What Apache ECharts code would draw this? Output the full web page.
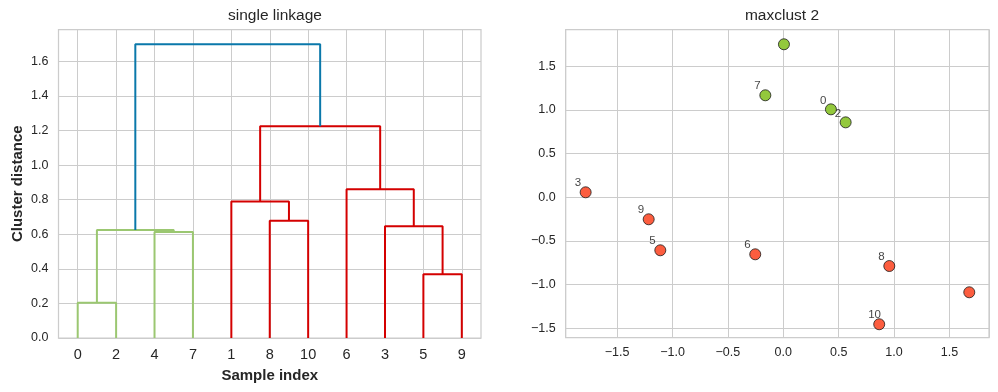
<!DOCTYPE html>
<html><head><meta charset="utf-8">
<script src="https://cdn.jsdelivr.net/npm/echarts@6/dist/echarts.min.js"></script>
<style>html,body{margin:0;padding:0;background:#fff}#c{width:998px;height:392px}</style>
</head><body><div id="c"></div>
<script>
// ---- dendrogram data ----
const leafLabels = ['0','2','4','7','1','8','10','6','3','5','9'];
// merge k creates node 11+k; leaves are sample ids 0..10
const mergeLeft   = [0, 5, 4, 11, 3, 8, 1, 6, 17, 14];
const mergeRight  = [2, 9, 7, 13, 12, 10, 16, 15, 18, 19];
const mergeHeight = [0.204, 0.369, 0.613, 0.625, 0.646, 0.679, 0.790, 0.860, 1.225, 1.700];
const mergeGroup  = ['g', 'r', 'g', 'g', 'r', 'r', 'r', 'r', 'r', 'b'];
const distTicks = [0, 0.2, 0.4, 0.6, 0.8, 1.0, 1.2, 1.4, 1.6];

// ---- scatter data (by sample id 0..10) ----
const pointX = [0.430, 1.679, 0.563, -1.784, 0.006, -1.110, -0.253, -0.162, 0.957, -1.215, 0.866];
const pointY = [1.007, -1.088, 0.858, 0.057, 1.752, -0.607, -0.653, 1.168, -0.787, -0.252, -1.454];
const pointLabel = ['0', '', '2', '3', '', '5', '6', '7', '8', '9', '10'];
const pointCluster = [1, 2, 1, 2, 1, 2, 2, 1, 2, 2, 2];
const scatterTicks = [-1.5, -1.0, -0.5, 0.0, 0.5, 1.0, 1.5];

const FONT = '"Liberation Sans", Arial, sans-serif';
const TXT = '#262626';
const GRIDC = '#cccccc';
const linkColor = { g: '#9bc771', r: '#d40000', b: '#0a78aa' };
const pointColor = { 1: '#93c83c', 2: '#fc5d3f' };

// node positions from the tree (leaf k sits at 5 + 10k)
const nodeX = {}, nodeH = {};
leafLabels.forEach((l, i) => { nodeX[+l] = 5 + 10 * i; nodeH[+l] = 0; });
const linkSeries = [];
mergeLeft.forEach((a, k) => {
  const b = mergeRight[k], h = mergeHeight[k], id = 11 + k;
  nodeX[id] = (nodeX[a] + nodeX[b]) / 2; nodeH[id] = h;
  linkSeries.push({
    type: 'line', xAxisIndex: 1, yAxisIndex: 0, showSymbol: false, symbol: 'none',
    silent: true, animation: false, z: 3,
    lineStyle: { color: linkColor[mergeGroup[k]], width: 2 },
    data: [[nodeX[a], nodeH[a]], [nodeX[a], h], [nodeX[b], h], [nodeX[b], nodeH[b]]]
  });
});

const near = (v, arr) => arr.some(t => Math.abs(t - v) < 1e-6);
const scatterData = pointX.map((x, i) => ({
  value: [x, pointY[i]],
  itemStyle: { color: pointColor[pointCluster[i]] }
}));
const labelData = pointX.map((x, i) => ({ value: [x, pointY[i]], name: pointLabel[i] }));

const chart = echarts.init(document.getElementById('c'), null, { renderer: 'canvas' });
chart.setOption({
  backgroundColor: '#ffffff',
  animation: false,
  textStyle: { fontFamily: FONT },
  title: [
    { text: 'single linkage', left: 270, top: 3, textAlign: 'center',
      textStyle: { fontFamily: FONT, fontSize: 15.5, fontWeight: 'normal', color: TXT } },
    { text: 'maxclust 2', left: 777, top: 3, textAlign: 'center',
      textStyle: { fontFamily: FONT, fontSize: 15.5, fontWeight: 'normal', color: TXT } }
  ],
  grid: [
    { left: 58.5, top: 29.5, width: 422.5, height: 308.5, show: true,
      borderColor: GRIDC, borderWidth: 1.25, backgroundColor: 'transparent' },
    { left: 565.7, top: 29.7, width: 423.3, height: 308, show: true,
      borderColor: GRIDC, borderWidth: 1.25, backgroundColor: 'transparent' }
  ],
  xAxis: [
    { type: 'category', gridIndex: 0, data: leafLabels, boundaryGap: true,
      name: 'Sample index', nameLocation: 'middle', nameGap: 30,
      nameTextStyle: { fontFamily: FONT, fontSize: 15, fontWeight: 'bold', color: TXT },
      axisLine: { show: false }, axisTick: { show: false },
      axisLabel: { fontFamily: FONT, fontSize: 14.5, color: TXT, margin: 9, interval: 0 },
      splitLine: { show: true, alignWithLabel: true, interval: 0, lineStyle: { color: GRIDC, width: 1 } } },
    { type: 'value', gridIndex: 0, min: 0, max: 110, show: false,
      splitLine: { show: false } },
    { type: 'value', gridIndex: 1, min: -1.964, max: 1.857, minInterval: 0.5, maxInterval: 0.5,
      axisLine: { show: false }, axisTick: { show: false },
      axisLabel: { fontFamily: FONT, fontSize: 12.5, color: TXT, margin: 8,
        formatter: v => near(v, scatterTicks) ? v.toFixed(1).replace('-', '\u2212') : '' },
      splitLine: { show: true, lineStyle: { color: GRIDC, width: 1 } } }
  ],
  yAxis: [
    { type: 'value', gridIndex: 0, min: 0, max: 1.785, interval: 0.2,
      name: 'Cluster distance', nameLocation: 'middle', nameGap: 33,
      nameTextStyle: { fontFamily: FONT, fontSize: 15, fontWeight: 'bold', color: TXT },
      axisLine: { show: false }, axisTick: { show: false },
      axisLabel: { fontFamily: FONT, fontSize: 12.5, color: TXT, margin: 10,
        formatter: v => near(v, distTicks) ? v.toFixed(1) : '' },
      splitLine: { show: true, lineStyle: { color: GRIDC, width: 1 } } },
    { type: 'value', gridIndex: 1, min: -1.608, max: 1.919, minInterval: 0.5, maxInterval: 0.5,
      axisLine: { show: false }, axisTick: { show: false },
      axisLabel: { fontFamily: FONT, fontSize: 12.5, color: TXT, margin: 10,
        formatter: v => near(v, scatterTicks) ? v.toFixed(1).replace('-', '\u2212') : '' },
      splitLine: { show: true, lineStyle: { color: GRIDC, width: 1 } } }
  ],
  series: linkSeries.concat([
    { type: 'scatter', xAxisIndex: 2, yAxisIndex: 1, data: labelData, symbolSize: 0, z: 2,
      silent: true,
      label: { show: true, formatter: p => p.name, position: [-11, -9], align: 'left',
        verticalAlign: 'middle', fontFamily: FONT, fontSize: 11.5, color: '#111' } },
    { type: 'scatter', xAxisIndex: 2, yAxisIndex: 1, data: scatterData, symbolSize: 11, z: 4,
      silent: true,
      itemStyle: { borderColor: '#1a1a1a', borderWidth: 0.8, opacity: 1 } }
  ])
});
</script>
</body></html>
